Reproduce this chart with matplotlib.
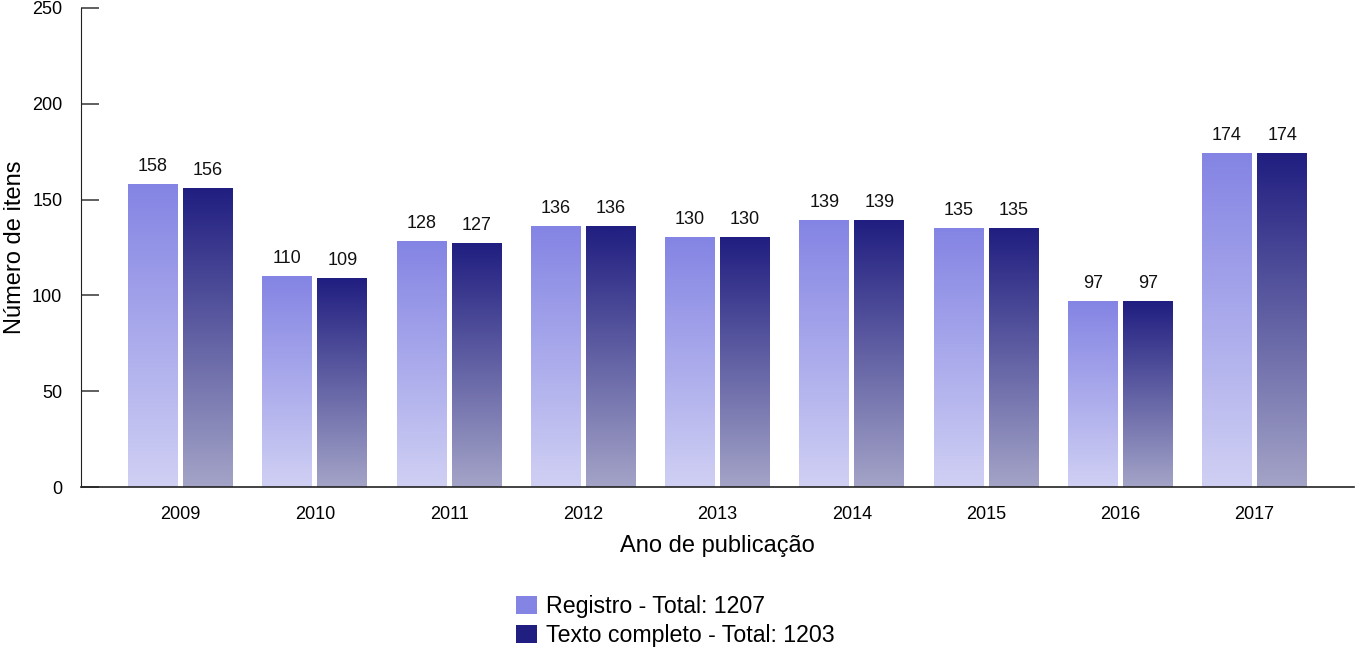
import matplotlib
matplotlib.use('Agg')
import matplotlib.pyplot as plt
from matplotlib.colors import LinearSegmentedColormap
from matplotlib.patches import Patch
import numpy as np

plt.rcParams['font.family'] = ['Liberation Sans', 'DejaVu Sans']

# data
years = ['2009', '2010', '2011', '2012', '2013', '2014', '2015', '2016', '2017']
registro = [158, 110, 128, 136, 130, 139, 135, 97, 174]
texto = [156, 109, 127, 136, 130, 139, 135, 97, 174]
series_names = ['Registro - Total: 1207', 'Texto completo - Total: 1203']

light_top, light_bot = '#8484e4', '#d0d0f4'
dark_top, dark_bot = '#201e80', '#a4a4c8'

fig = plt.figure(figsize=(13.55, 6.49), dpi=100)
ax = fig.add_axes([0.0598, 0.2496, 0.9395, 0.7381])

x = np.arange(len(years))
width = 0.372
offset = 0.205

grad = np.linspace(0, 1, 256).reshape(-1, 1)

#bars with a vertical gradient, each one its own little image
def gradient_bars(xs, vals, top, bot):
    cmap = LinearSegmentedColormap.from_list('g', [bot, top])
    for xc, v in zip(xs, vals):
        ax.imshow(grad, extent=[xc - width / 2, xc + width / 2, 0, v],
                  origin='lower', cmap=cmap, aspect='auto', zorder=2,
                  interpolation='bilinear')
        ax.text(xc, v + 5, str(v), ha='center', va='bottom', fontsize=13,
                color='#111111')

gradient_bars(x - offset, registro, light_top, light_bot)
gradient_bars(x + offset, texto, dark_top, dark_bot)

ax.set_xlim(-0.741, 8.741)
ax.set_ylim(0, 250)
ax.set_yticks([0, 50, 100, 150, 200, 250])
ax.set_xticks(x)
ax.set_xticklabels(years)
ax.tick_params(axis='x', length=0, pad=14, labelsize=13)
ax.tick_params(axis='y', direction='in', length=13, width=1.2, color='#444444',
               pad=13.5, labelsize=13)

for s in ['top', 'right']:
    ax.spines[s].set_visible(False)
ax.spines['left'].set_color('#222222')
ax.spines['bottom'].set_color('#222222')
ax.spines['bottom'].set_linewidth(1.2)

ax.set_xlabel('Ano de publicação', fontsize=17, labelpad=8)
ax.set_ylabel('Número de itens', fontsize=17)
ax.yaxis.set_label_coords(-0.043, 0.5)

handles = [Patch(facecolor=light_top, edgecolor='none'),
           Patch(facecolor=dark_top, edgecolor='none')]
fig.legend(handles, series_names, loc='upper left',
           bbox_to_anchor=(0.381, 0.083), frameon=False, fontsize=16.7,
           handlelength=0.9, handleheight=0.85, handletextpad=0.4,
           labelspacing=0.25, borderaxespad=0, borderpad=0)

fig.savefig('out.png', dpi=100)
